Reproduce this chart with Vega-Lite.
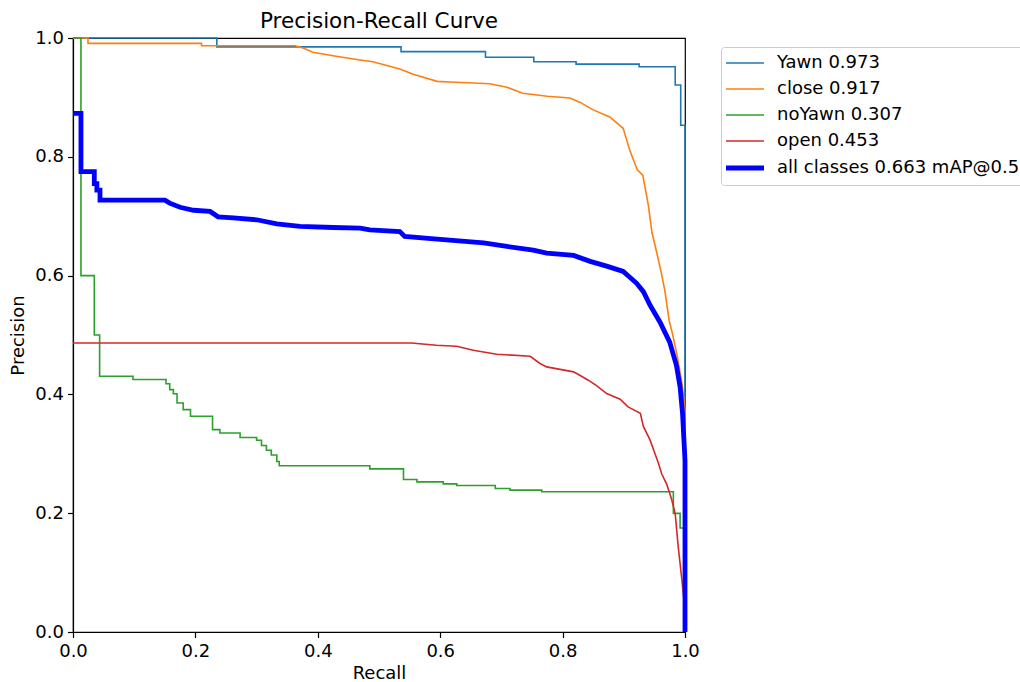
{
  "$schema": "https://vega.github.io/schema/vega-lite/v6.json",
  "width": 612,
  "height": 594,
  "autosize": {"type": "none"},
  "padding": {"left": 73, "top": 38, "right": 335, "bottom": 50},
  "background": "white",
  "title": {"text": "Precision-Recall Curve", "fontSize": 21.5, "font": "DejaVu Sans", "fontWeight": "normal", "color": "#000", "offset": -3},
  "config": {
    "font": "DejaVu Sans",
    "view": {"stroke": "#000", "strokeWidth": 1.2}
  },
  "data": {"values": [
    {"s":"Yawn 0.973","i":0,"r":0,"p":1.0},
    {"s":"Yawn 0.973","i":1,"r":0.235,"p":1.0},
    {"s":"Yawn 0.973","i":2,"r":0.235,"p":0.985},
    {"s":"Yawn 0.973","i":3,"r":0.536,"p":0.985},
    {"s":"Yawn 0.973","i":4,"r":0.536,"p":0.977},
    {"s":"Yawn 0.973","i":5,"r":0.674,"p":0.977},
    {"s":"Yawn 0.973","i":6,"r":0.674,"p":0.9675},
    {"s":"Yawn 0.973","i":7,"r":0.753,"p":0.9675},
    {"s":"Yawn 0.973","i":8,"r":0.753,"p":0.960},
    {"s":"Yawn 0.973","i":9,"r":0.822,"p":0.960},
    {"s":"Yawn 0.973","i":10,"r":0.822,"p":0.956},
    {"s":"Yawn 0.973","i":11,"r":0.925,"p":0.956},
    {"s":"Yawn 0.973","i":12,"r":0.925,"p":0.9515},
    {"s":"Yawn 0.973","i":13,"r":0.984,"p":0.9515},
    {"s":"Yawn 0.973","i":14,"r":0.984,"p":0.921},
    {"s":"Yawn 0.973","i":15,"r":0.993,"p":0.921},
    {"s":"Yawn 0.973","i":16,"r":0.993,"p":0.853},
    {"s":"Yawn 0.973","i":17,"r":1.0,"p":0.853},
    {"s":"Yawn 0.973","i":18,"r":1.0,"p":0.0},

    {"s":"close 0.917","i":0,"r":0,"p":1.0},
    {"s":"close 0.917","i":1,"r":0.0245,"p":1.0},
    {"s":"close 0.917","i":2,"r":0.0245,"p":0.991},
    {"s":"close 0.917","i":3,"r":0.210,"p":0.991},
    {"s":"close 0.917","i":4,"r":0.210,"p":0.987},
    {"s":"close 0.917","i":5,"r":0.363,"p":0.987},
    {"s":"close 0.917","i":6,"r":0.376,"p":0.983},
    {"s":"close 0.917","i":7,"r":0.392,"p":0.976},
    {"s":"close 0.917","i":8,"r":0.425,"p":0.970},
    {"s":"close 0.917","i":9,"r":0.469,"p":0.963},
    {"s":"close 0.917","i":10,"r":0.490,"p":0.960},
    {"s":"close 0.917","i":11,"r":0.534,"p":0.948},
    {"s":"close 0.917","i":12,"r":0.556,"p":0.939},
    {"s":"close 0.917","i":13,"r":0.595,"p":0.927},
    {"s":"close 0.917","i":14,"r":0.616,"p":0.926},
    {"s":"close 0.917","i":15,"r":0.681,"p":0.923},
    {"s":"close 0.917","i":16,"r":0.709,"p":0.917},
    {"s":"close 0.917","i":17,"r":0.735,"p":0.907},
    {"s":"close 0.917","i":18,"r":0.775,"p":0.902},
    {"s":"close 0.917","i":19,"r":0.812,"p":0.899},
    {"s":"close 0.917","i":20,"r":0.828,"p":0.892},
    {"s":"close 0.917","i":21,"r":0.850,"p":0.879},
    {"s":"close 0.917","i":22,"r":0.877,"p":0.867},
    {"s":"close 0.917","i":23,"r":0.899,"p":0.848},
    {"s":"close 0.917","i":24,"r":0.910,"p":0.810},
    {"s":"close 0.917","i":25,"r":0.922,"p":0.778},
    {"s":"close 0.917","i":26,"r":0.931,"p":0.769},
    {"s":"close 0.917","i":27,"r":0.940,"p":0.719},
    {"s":"close 0.917","i":28,"r":0.946,"p":0.673},
    {"s":"close 0.917","i":29,"r":0.954,"p":0.638},
    {"s":"close 0.917","i":30,"r":0.961,"p":0.606},
    {"s":"close 0.917","i":31,"r":0.967,"p":0.575},
    {"s":"close 0.917","i":32,"r":0.974,"p":0.525},
    {"s":"close 0.917","i":33,"r":0.980,"p":0.500},
    {"s":"close 0.917","i":34,"r":0.987,"p":0.466},
    {"s":"close 0.917","i":35,"r":0.995,"p":0.419},
    {"s":"close 0.917","i":36,"r":1.0,"p":0.373},
    {"s":"close 0.917","i":37,"r":1.0,"p":0.0},

    {"s":"noYawn 0.307","i":0,"r":0,"p":1.0},
    {"s":"noYawn 0.307","i":1,"r":0.013,"p":1.0},
    {"s":"noYawn 0.307","i":2,"r":0.013,"p":0.6},
    {"s":"noYawn 0.307","i":3,"r":0.0348,"p":0.6},
    {"s":"noYawn 0.307","i":4,"r":0.0348,"p":0.5},
    {"s":"noYawn 0.307","i":5,"r":0.0435,"p":0.5},
    {"s":"noYawn 0.307","i":6,"r":0.0435,"p":0.4305},
    {"s":"noYawn 0.307","i":7,"r":0.098,"p":0.4305},
    {"s":"noYawn 0.307","i":8,"r":0.098,"p":0.425},
    {"s":"noYawn 0.307","i":9,"r":0.152,"p":0.425},
    {"s":"noYawn 0.307","i":10,"r":0.152,"p":0.418},
    {"s":"noYawn 0.307","i":11,"r":0.158,"p":0.418},
    {"s":"noYawn 0.307","i":12,"r":0.158,"p":0.408},
    {"s":"noYawn 0.307","i":13,"r":0.164,"p":0.408},
    {"s":"noYawn 0.307","i":14,"r":0.164,"p":0.401},
    {"s":"noYawn 0.307","i":15,"r":0.170,"p":0.401},
    {"s":"noYawn 0.307","i":16,"r":0.170,"p":0.3855},
    {"s":"noYawn 0.307","i":17,"r":0.180,"p":0.3855},
    {"s":"noYawn 0.307","i":18,"r":0.180,"p":0.3744},
    {"s":"noYawn 0.307","i":19,"r":0.192,"p":0.3744},
    {"s":"noYawn 0.307","i":20,"r":0.192,"p":0.3631},
    {"s":"noYawn 0.307","i":21,"r":0.228,"p":0.3631},
    {"s":"noYawn 0.307","i":22,"r":0.228,"p":0.3407},
    {"s":"noYawn 0.307","i":23,"r":0.240,"p":0.3407},
    {"s":"noYawn 0.307","i":24,"r":0.240,"p":0.3351},
    {"s":"noYawn 0.307","i":25,"r":0.273,"p":0.3351},
    {"s":"noYawn 0.307","i":26,"r":0.273,"p":0.3274},
    {"s":"noYawn 0.307","i":27,"r":0.300,"p":0.3274},
    {"s":"noYawn 0.307","i":28,"r":0.300,"p":0.3228},
    {"s":"noYawn 0.307","i":29,"r":0.308,"p":0.3228},
    {"s":"noYawn 0.307","i":30,"r":0.308,"p":0.314},
    {"s":"noYawn 0.307","i":31,"r":0.316,"p":0.314},
    {"s":"noYawn 0.307","i":32,"r":0.316,"p":0.306},
    {"s":"noYawn 0.307","i":33,"r":0.324,"p":0.306},
    {"s":"noYawn 0.307","i":34,"r":0.324,"p":0.298},
    {"s":"noYawn 0.307","i":35,"r":0.333,"p":0.298},
    {"s":"noYawn 0.307","i":36,"r":0.333,"p":0.287},
    {"s":"noYawn 0.307","i":37,"r":0.337,"p":0.287},
    {"s":"noYawn 0.307","i":38,"r":0.337,"p":0.280},
    {"s":"noYawn 0.307","i":39,"r":0.485,"p":0.280},
    {"s":"noYawn 0.307","i":40,"r":0.485,"p":0.2746},
    {"s":"noYawn 0.307","i":41,"r":0.540,"p":0.2746},
    {"s":"noYawn 0.307","i":42,"r":0.540,"p":0.2567},
    {"s":"noYawn 0.307","i":43,"r":0.562,"p":0.2567},
    {"s":"noYawn 0.307","i":44,"r":0.562,"p":0.2527},
    {"s":"noYawn 0.307","i":45,"r":0.605,"p":0.2527},
    {"s":"noYawn 0.307","i":46,"r":0.605,"p":0.2494},
    {"s":"noYawn 0.307","i":47,"r":0.627,"p":0.2494},
    {"s":"noYawn 0.307","i":48,"r":0.627,"p":0.2467},
    {"s":"noYawn 0.307","i":49,"r":0.690,"p":0.2467},
    {"s":"noYawn 0.307","i":50,"r":0.690,"p":0.2416},
    {"s":"noYawn 0.307","i":51,"r":0.714,"p":0.2416},
    {"s":"noYawn 0.307","i":52,"r":0.714,"p":0.2388},
    {"s":"noYawn 0.307","i":53,"r":0.766,"p":0.2388},
    {"s":"noYawn 0.307","i":54,"r":0.766,"p":0.236},
    {"s":"noYawn 0.307","i":55,"r":0.981,"p":0.236},
    {"s":"noYawn 0.307","i":56,"r":0.981,"p":0.1997},
    {"s":"noYawn 0.307","i":57,"r":0.992,"p":0.1997},
    {"s":"noYawn 0.307","i":58,"r":0.992,"p":0.175},
    {"s":"noYawn 0.307","i":59,"r":1.0,"p":0.175},
    {"s":"noYawn 0.307","i":60,"r":1.0,"p":0.0},

    {"s":"open 0.453","i":0,"r":0,"p":0.4866},
    {"s":"open 0.453","i":1,"r":0.553,"p":0.4866},
    {"s":"open 0.453","i":2,"r":0.594,"p":0.4827},
    {"s":"open 0.453","i":3,"r":0.627,"p":0.481},
    {"s":"open 0.453","i":4,"r":0.654,"p":0.4743},
    {"s":"open 0.453","i":5,"r":0.6925,"p":0.4676},
    {"s":"open 0.453","i":6,"r":0.747,"p":0.4642},
    {"s":"open 0.453","i":7,"r":0.763,"p":0.452},
    {"s":"open 0.453","i":8,"r":0.774,"p":0.4463},
    {"s":"open 0.453","i":9,"r":0.818,"p":0.4379},
    {"s":"open 0.453","i":10,"r":0.828,"p":0.4323},
    {"s":"open 0.453","i":11,"r":0.842,"p":0.4239},
    {"s":"open 0.453","i":12,"r":0.856,"p":0.4143},
    {"s":"open 0.453","i":13,"r":0.872,"p":0.4015},
    {"s":"open 0.453","i":14,"r":0.894,"p":0.392},
    {"s":"open 0.453","i":15,"r":0.907,"p":0.379},
    {"s":"open 0.453","i":16,"r":0.927,"p":0.368},
    {"s":"open 0.453","i":17,"r":0.932,"p":0.346},
    {"s":"open 0.453","i":18,"r":0.943,"p":0.323},
    {"s":"open 0.453","i":19,"r":0.951,"p":0.300},
    {"s":"open 0.453","i":20,"r":0.957,"p":0.283},
    {"s":"open 0.453","i":21,"r":0.962,"p":0.266},
    {"s":"open 0.453","i":22,"r":0.970,"p":0.249},
    {"s":"open 0.453","i":23,"r":0.978,"p":0.224},
    {"s":"open 0.453","i":24,"r":0.984,"p":0.199},
    {"s":"open 0.453","i":25,"r":0.989,"p":0.143},
    {"s":"open 0.453","i":26,"r":0.995,"p":0.087},
    {"s":"open 0.453","i":27,"r":1.0,"p":0.036},
    {"s":"open 0.453","i":28,"r":1.0,"p":0.0},

    {"s":"all classes 0.663 mAP@0.5","i":0,"r":0,"p":0.873},
    {"s":"all classes 0.663 mAP@0.5","i":1,"r":0.013,"p":0.873},
    {"s":"all classes 0.663 mAP@0.5","i":2,"r":0.013,"p":0.775},
    {"s":"all classes 0.663 mAP@0.5","i":3,"r":0.0348,"p":0.775},
    {"s":"all classes 0.663 mAP@0.5","i":4,"r":0.0348,"p":0.755},
    {"s":"all classes 0.663 mAP@0.5","i":5,"r":0.039,"p":0.755},
    {"s":"all classes 0.663 mAP@0.5","i":6,"r":0.039,"p":0.744},
    {"s":"all classes 0.663 mAP@0.5","i":7,"r":0.0441,"p":0.744},
    {"s":"all classes 0.663 mAP@0.5","i":8,"r":0.0441,"p":0.727},
    {"s":"all classes 0.663 mAP@0.5","i":9,"r":0.1503,"p":0.727},
    {"s":"all classes 0.663 mAP@0.5","i":10,"r":0.158,"p":0.722},
    {"s":"all classes 0.663 mAP@0.5","i":11,"r":0.175,"p":0.715},
    {"s":"all classes 0.663 mAP@0.5","i":12,"r":0.197,"p":0.710},
    {"s":"all classes 0.663 mAP@0.5","i":13,"r":0.224,"p":0.708},
    {"s":"all classes 0.663 mAP@0.5","i":14,"r":0.237,"p":0.699},
    {"s":"all classes 0.663 mAP@0.5","i":15,"r":0.262,"p":0.697},
    {"s":"all classes 0.663 mAP@0.5","i":16,"r":0.300,"p":0.694},
    {"s":"all classes 0.663 mAP@0.5","i":17,"r":0.333,"p":0.687},
    {"s":"all classes 0.663 mAP@0.5","i":18,"r":0.371,"p":0.683},
    {"s":"all classes 0.663 mAP@0.5","i":19,"r":0.425,"p":0.681},
    {"s":"all classes 0.663 mAP@0.5","i":20,"r":0.469,"p":0.680},
    {"s":"all classes 0.663 mAP@0.5","i":21,"r":0.485,"p":0.677},
    {"s":"all classes 0.663 mAP@0.5","i":22,"r":0.534,"p":0.674},
    {"s":"all classes 0.663 mAP@0.5","i":23,"r":0.542,"p":0.666},
    {"s":"all classes 0.663 mAP@0.5","i":24,"r":0.600,"p":0.661},
    {"s":"all classes 0.663 mAP@0.5","i":25,"r":0.671,"p":0.655},
    {"s":"all classes 0.663 mAP@0.5","i":26,"r":0.709,"p":0.649},
    {"s":"all classes 0.663 mAP@0.5","i":27,"r":0.752,"p":0.643},
    {"s":"all classes 0.663 mAP@0.5","i":28,"r":0.774,"p":0.638},
    {"s":"all classes 0.663 mAP@0.5","i":29,"r":0.818,"p":0.634},
    {"s":"all classes 0.663 mAP@0.5","i":30,"r":0.845,"p":0.624},
    {"s":"all classes 0.663 mAP@0.5","i":31,"r":0.872,"p":0.616},
    {"s":"all classes 0.663 mAP@0.5","i":32,"r":0.899,"p":0.607},
    {"s":"all classes 0.663 mAP@0.5","i":33,"r":0.921,"p":0.587},
    {"s":"all classes 0.663 mAP@0.5","i":34,"r":0.932,"p":0.573},
    {"s":"all classes 0.663 mAP@0.5","i":35,"r":0.943,"p":0.550},
    {"s":"all classes 0.663 mAP@0.5","i":36,"r":0.959,"p":0.522},
    {"s":"all classes 0.663 mAP@0.5","i":37,"r":0.975,"p":0.488},
    {"s":"all classes 0.663 mAP@0.5","i":38,"r":0.986,"p":0.449},
    {"s":"all classes 0.663 mAP@0.5","i":39,"r":0.992,"p":0.4125},
    {"s":"all classes 0.663 mAP@0.5","i":40,"r":0.996,"p":0.368},
    {"s":"all classes 0.663 mAP@0.5","i":41,"r":0.998,"p":0.328},
    {"s":"all classes 0.663 mAP@0.5","i":42,"r":1.0,"p":0.289},
    {"s":"all classes 0.663 mAP@0.5","i":43,"r":1.0,"p":0.0}
  ]},
  "encoding": {
    "x": {"field": "r", "type": "quantitative",
      "scale": {"domain": [0, 1], "nice": false, "zero": false},
      "axis": {"title": "Recall", "values": [0, 0.2, 0.4, 0.6, 0.8, 1.0], "format": ".1f",
        "grid": false, "labelFontSize": 18, "titleFontSize": 18, "titleFontWeight": "normal",
        "labelColor": "#000", "titleColor": "#000", "domainColor": "#000", "domainWidth": 1.2,
        "tickColor": "#000", "tickWidth": 1.2, "tickSize": 5.5, "labelPadding": 5, "titlePadding": 4,
        "labelFlush": false}},
    "y": {"field": "p", "type": "quantitative",
      "scale": {"domain": [0, 1], "nice": false, "zero": false},
      "axis": {"title": "Precision", "values": [0, 0.2, 0.4, 0.6, 0.8, 1.0], "format": ".1f",
        "grid": false, "labelFontSize": 18, "titleFontSize": 18, "titleFontWeight": "normal",
        "labelColor": "#000", "titleColor": "#000", "domainColor": "#000", "domainWidth": 1.2,
        "tickColor": "#000", "tickWidth": 1.2, "tickSize": 5.5, "labelPadding": 4, "titlePadding": 7,
        "labelFlush": false}},
    "color": {"field": "s", "type": "nominal",
      "scale": {"domain": ["Yawn 0.973", "close 0.917", "noYawn 0.307", "open 0.453", "all classes 0.663 mAP@0.5"],
        "range": ["#1f77b4", "#ff7f0e", "#2ca02c", "#d62728", "#0000ff"]},
      "legend": {"title": null, "orient": "none", "legendX": 648, "legendY": 9,
        "symbolType": "stroke", "symbolSize": 1444, "symbolOffset": 8, "labelFontSize": 18, "labelColor": "#000",
        "labelLimit": 500, "labelOffset": 23, "rowPadding": 8, "padding": 7,
        "strokeColor": "#cccccc", "fillColor": "white", "cornerRadius": 3,
        "encode": {"symbols": {"update": {"strokeWidth": {"signal": "datum.value == 'all classes 0.663 mAP@0.5' ? 5 : 1.6"}}}}}},
    "order": {"field": "i", "type": "quantitative"}
  },
  "layer": [
    {"transform": [{"filter": "datum.s != 'all classes 0.663 mAP@0.5'"}],
     "mark": {"type": "line", "strokeWidth": 1.6}},
    {"transform": [{"filter": "datum.s == 'all classes 0.663 mAP@0.5'"}],
     "mark": {"type": "line", "strokeWidth": 4.8}}
  ]
}
